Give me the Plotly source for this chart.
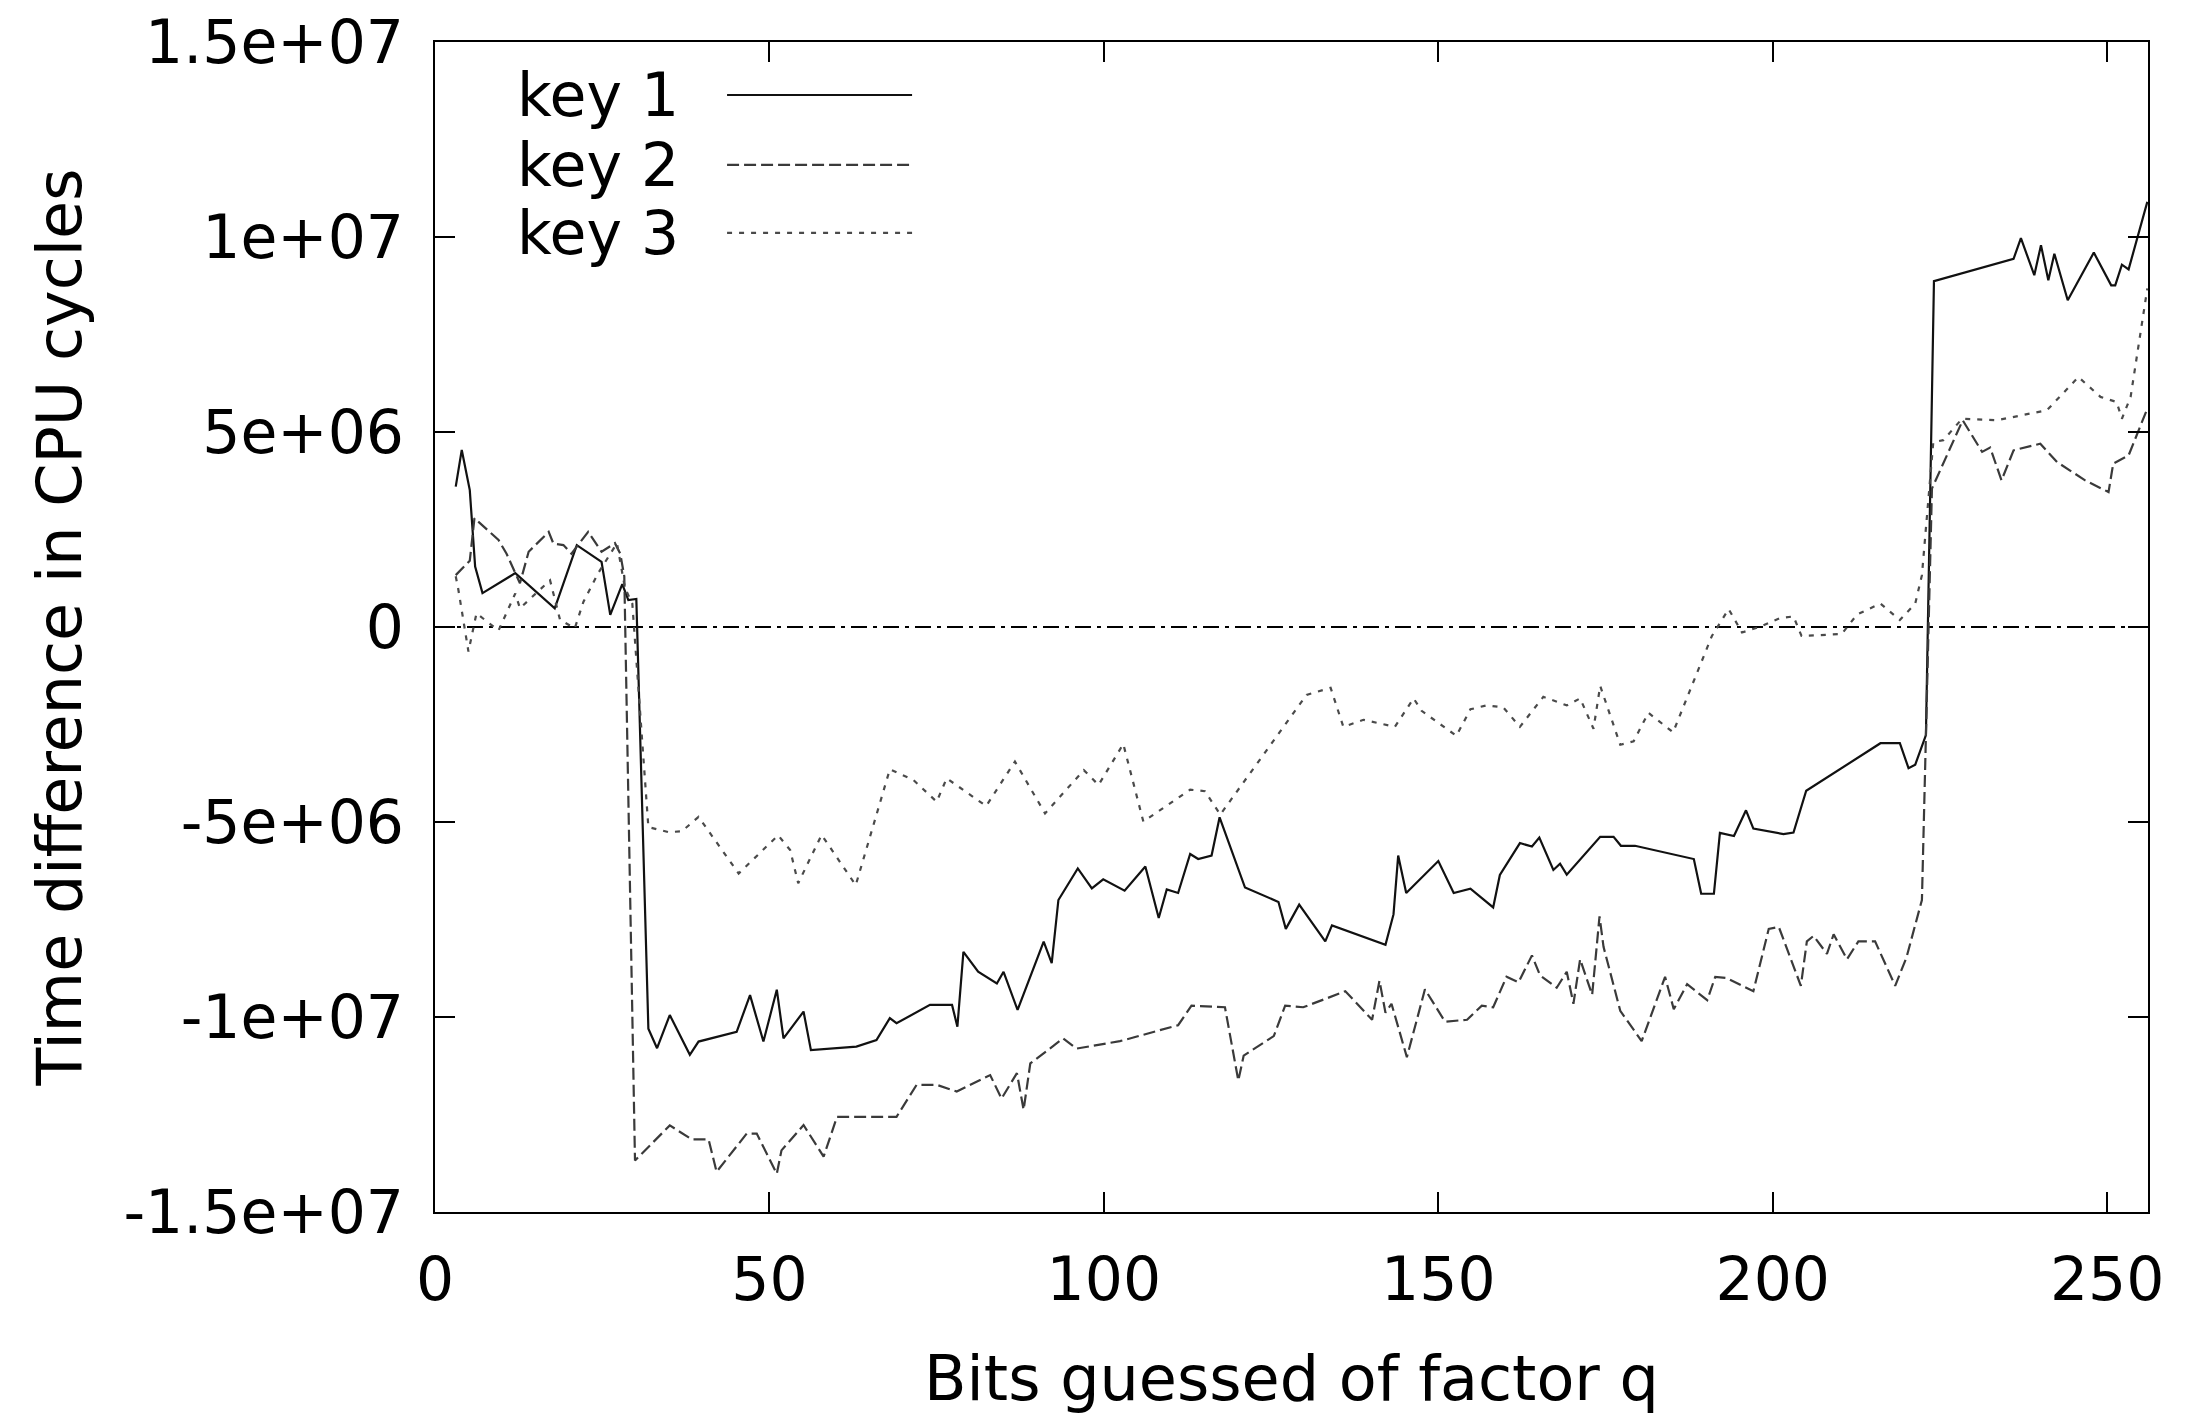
import plotly.graph_objects as go

# ---------------- data (y in units of 1e6 CPU cycles) ----------------
key1_x = [3.1, 4.0, 5.2, 6.0, 7.1, 12.0, 17.9, 21.2, 24.9, 26.2, 28.0, 28.9, 30.1,
          31.9, 33.2, 35.1, 38.1, 39.4, 45.1, 47.1, 49.1, 51.1, 52.1, 55.1, 56.2,
          63.0, 66.0, 68.0, 69.0, 74.0, 77.3, 78.1, 79.0, 81.2, 84.0, 85.0, 87.1,
          91.0, 92.2, 93.2, 96.1, 98.2, 99.9, 103.1, 106.2, 108.2, 109.4, 111.1,
          112.9, 114.1, 116.1, 117.3, 121.1, 126.1, 127.2, 129.2, 133.1, 134.1,
          142.1, 143.3, 144.0, 145.2, 150.0, 152.3, 154.8, 158.2, 159.2, 162.2,
          164.0, 165.1, 167.2, 168.2, 169.2, 174.2, 176.2, 177.3, 179.4, 188.2,
          189.3, 191.2, 192.1, 194.2, 196.0, 197.1, 201.6, 203.1, 205.0, 216.1,
          219.0, 220.3, 221.3, 222.9, 224.1, 236.0, 237.1, 239.1, 240.1, 241.2,
          242.1, 244.1, 248.0, 250.6, 251.2, 252.2, 253.2, 256.0]
key1_y = [3.6, 4.54, 3.51, 1.55, 0.87, 1.38, 0.48, 2.1, 1.67, 0.31, 1.1, 0.69, 0.72,
          -10.3, -10.8, -9.95, -10.97, -10.63, -10.38, -9.44, -10.63, -9.3, -10.55,
          -9.86, -10.85, -10.76, -10.59, -10.03, -10.16, -9.69, -9.69, -10.25, -8.33,
          -8.84, -9.14, -8.84, -9.82, -8.07, -8.62, -7.0, -6.19, -6.70, -6.47, -6.76,
          -6.14, -7.46, -6.73, -6.82, -5.82, -5.95, -5.86, -4.88, -6.68, -7.05, -7.74,
          -7.12, -8.06, -7.65, -8.15, -7.37, -5.86, -6.82, -6.0, -6.82, -6.71, -7.19,
          -6.36, -5.54, -5.63, -5.4, -6.23, -6.07, -6.35, -5.38, -5.38, -5.61, -5.61,
          -5.95, -6.84, -6.84, -5.28, -5.36, -4.7, -5.17, -5.31, -5.27, -4.2, -2.98,
          -2.98, -3.62, -3.53, -2.77, 8.87, 9.44, 9.97, 9.02, 9.79, 8.89, 9.57, 8.38,
          9.6, 8.76, 8.76, 9.29, 9.17, 10.9]

key2_x = [3.1, 5.2, 5.9, 9.5, 10.7, 12.7, 14.0, 17.0, 17.7, 19.2, 20.4, 22.9, 24.9,
          26.9, 27.7, 28.3, 29.9, 35.1, 38.4, 40.9, 42.1, 46.6, 48.1, 51.1, 51.8,
          55.1, 58.1, 60.1, 69.0, 72.0, 75.0, 78.0, 83.0, 84.7, 87.0, 88.0, 89.0,
          93.9, 95.9, 102.4, 111.1, 113.1, 118.1, 120.1, 120.9, 125.4, 127.1, 129.8,
          136.1, 140.1, 141.2, 142.1, 143.0, 145.3, 148.0, 151.0, 154.3, 156.5,
          158.2, 160.2, 162.0, 164.0, 165.2, 167.7, 169.2, 170.2, 171.2, 173.0,
          174.1, 174.7, 177.2, 180.4, 183.9, 185.2, 187.2, 190.2, 191.4, 193.1,
          197.1, 199.4, 200.9, 204.2, 205.1, 206.1, 208.1, 209.1, 211.1, 212.8,
          215.3, 218.3, 220.0, 222.3, 223.8, 228.4, 231.3, 232.5, 234.2, 236.0,
          240.0, 242.5, 246.7, 250.2, 250.9, 253.2, 256.0]
key2_y = [1.33, 1.7, 2.79, 2.23, 1.88, 1.12, 1.93, 2.44, 2.14, 2.1, 1.88, 2.44, 1.93,
          2.15, 1.88, 1.3, -13.68, -12.78, -13.14, -13.14, -13.97, -12.99, -12.99,
          -14.02, -13.42, -12.77, -13.58, -12.56, -12.56, -11.74, -11.74, -11.91,
          -11.49, -12.09, -11.44, -12.38, -11.19, -10.55, -10.81, -10.62, -10.21,
          -9.71, -9.75, -11.63, -10.99, -10.49, -9.71, -9.75, -9.34, -10.07, -9.07,
          -9.89, -9.66, -11.03, -9.29, -10.12, -10.07, -9.71, -9.75, -8.97, -9.11,
          -8.42, -8.93, -9.25, -8.84, -9.66, -8.52, -9.43, -7.42, -8.2, -9.84,
          -10.62, -8.97, -9.8, -9.16, -9.57, -8.97, -9.0, -9.34, -7.74, -7.69, -9.2,
          -8.06, -7.92, -8.38, -7.88, -8.52, -8.06, -8.06, -9.2, -8.47, -7.0, 3.55,
          5.3, 4.49, 4.6, 3.76, 4.53, 4.7, 4.23, 3.76, 3.46, 4.19, 4.4, 5.6]

key3_x = [3.1, 3.5, 5.0, 6.2, 9.5, 12.0, 12.7, 17.2, 18.7, 20.9, 22.2, 24.4, 27.2,
          28.4, 29.5, 31.9, 34.9, 36.9, 39.4, 42.4, 45.4, 51.3, 53.1, 54.3, 57.8,
          62.9, 68.0, 71.5, 75.0, 76.5, 82.4, 86.7, 91.2, 97.0, 99.2, 102.9, 105.9,
          112.9, 115.1, 117.4, 130.3, 133.9, 135.8, 138.8, 143.5, 146.3, 147.5,
          152.7, 154.8, 157.2, 159.7, 162.2, 165.7, 169.2, 171.2, 173.2, 174.2,
          177.2, 179.2, 181.4, 185.1, 190.9, 193.4, 195.4, 198.0, 201.1, 203.1,
          204.3, 210.3, 212.6, 216.1, 219.0, 221.3, 222.3, 224.0, 225.5, 228.3,
          233.5, 241.0, 245.7, 249.0, 251.4, 252.2, 253.5, 256.0]
key3_y = [1.3, 0.95, -0.63, 0.35, -0.09, 0.86, 0.48, 1.2, 0.18, -0.03, 0.65, 1.38,
          2.15, 1.0, 0.6, -5.13, -5.26, -5.24, -4.87, -5.6, -6.32, -5.34, -5.72,
          -6.57, -5.33, -6.62, -3.65, -3.92, -4.48, -3.88, -4.59, -3.45, -4.78,
          -3.67, -4.05, -3.0, -4.99, -4.17, -4.21, -4.81, -1.74, -1.56, -2.56, -2.38,
          -2.56, -1.83, -2.15, -2.79, -2.11, -2.01, -2.06, -2.56, -1.79, -2.01, -1.83,
          -2.61, -1.51, -3.02, -2.93, -2.2, -2.7, -0.23, 0.46, -0.14, 0.0, 0.23, 0.27,
          -0.23, -0.18, 0.32, 0.6, 0.18, 0.6, 1.33, 4.74, 4.79, 5.34, 5.3, 5.56, 6.41,
          5.9, 5.77, 5.34, 5.9, 8.68]

x_tickvals = [0, 50, 100, 150, 200, 250]
y_tickvals = [-15, -10, -5, 0, 5, 10, 15]
y_ticktext = ["-1.5e+07", "-1e+07", "-5e+06", "0", "5e+06", "1e+07", "1.5e+07"]

series_names = ["key 1", "key 2", "key 3"]
series_x = [key1_x, key2_x, key3_x]
series_y = [key1_y, key2_y, key3_y]
series_colors = ["#111111", "#3a3a3a", "#4a4a4a"]
series_dash = ["solid", "12px,5px", "5px,7px"]

FONT = "DejaVu Sans"

fig = go.Figure()
for name, xs, ys, col, dash in zip(series_names, series_x, series_y, series_colors, series_dash):
    fig.add_trace(go.Scatter(x=xs, y=ys, mode="lines", name=name, showlegend=False,
                             line=dict(color=col, width=2.2, dash=dash)))

# zero axis (dash-dot)
fig.add_shape(type="line", xref="paper", x0=0, x1=1, yref="y", y0=0, y1=0,
              line=dict(color="black", width=2, dash="16px,6px,4px,6px"), layer="below")

# gnuplot-style key: text right-justified, sample to the right
key_rows_y = [0.9547, 0.8949, 0.8368]
for name, col, dash, ky in zip(series_names, series_colors, series_dash, key_rows_y):
    fig.add_annotation(xref="paper", yref="paper", x=0.1436, y=ky, text=name,
                       showarrow=False, xanchor="right", yanchor="middle",
                       font=dict(family=FONT, size=60, color="black"))
    fig.add_shape(type="line", xref="paper", yref="paper", x0=0.1705, x1=0.2785,
                  y0=ky, y1=ky, line=dict(color=col, width=2.2, dash=dash))

axis_common = dict(showline=True, linecolor="black", linewidth=2, mirror="ticks",
                   ticks="inside", ticklen=20, tickwidth=2, tickcolor="black",
                   showgrid=False, zeroline=False, automargin=False,
                   ticklabeloverflow="allow",
                   tickfont=dict(family=FONT, size=60, color="black"))

# page body has an 8px margin: figure is 16px smaller than the window
fig.update_layout(
    width=2174, height=1407, autosize=False,
    margin=dict(l=427, r=34, t=34, b=203, pad=0),
    paper_bgcolor="white", plot_bgcolor="white",
    font=dict(family=FONT, size=60, color="black"),
    xaxis=dict(range=[0, 256.1], tickvals=x_tickvals, ticklabelstandoff=14,
               title=dict(text="Bits guessed of factor q", standoff=54,
                          font=dict(family=FONT, size=62, color="black")),
               **axis_common),
    yaxis=dict(range=[-15, 15], tickvals=y_tickvals, ticktext=y_ticktext,
               ticklabelstandoff=17,
               title=dict(text="Time difference in CPU cycles", standoff=22,
                          font=dict(family=FONT, size=62, color="black")),
               **axis_common),
)

fig.write_html("out.html")
